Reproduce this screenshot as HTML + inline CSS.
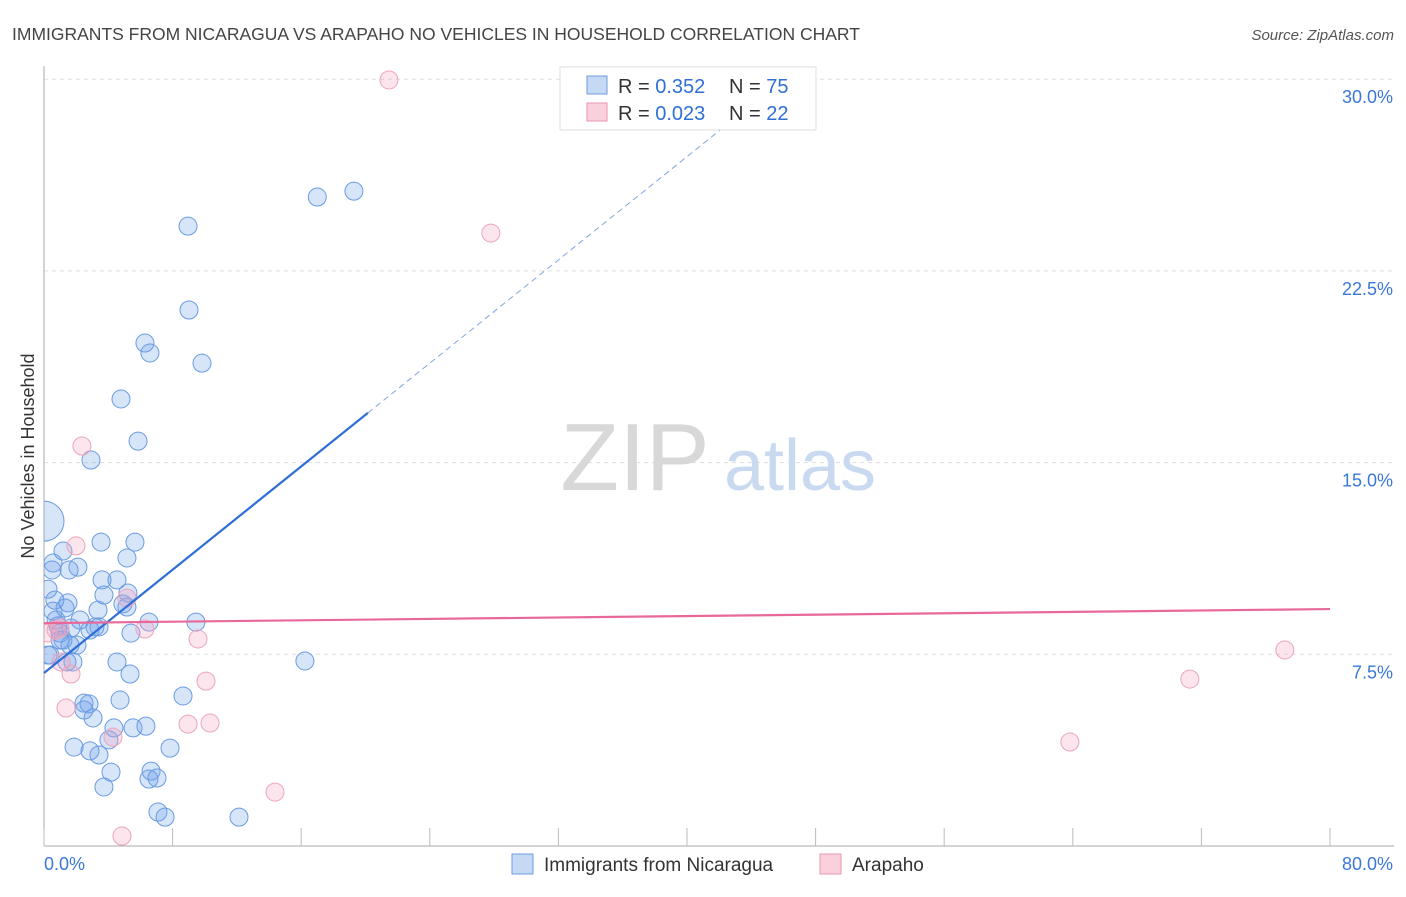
<!DOCTYPE html>
<html><head><meta charset="utf-8">
<style>
body{margin:0;background:#fff;font-family:"Liberation Sans",sans-serif;}
svg text{font-family:"Liberation Sans",sans-serif;}
</style></head>
<body>
<svg id="chart" width="1406" height="892" xmlns="http://www.w3.org/2000/svg">
<defs><clipPath id="plotclip"><rect x="44" y="60" width="1360" height="786"/></clipPath></defs>
<text x="12" y="40" font-size="17.5" fill="#444">IMMIGRANTS FROM NICARAGUA VS ARAPAHO NO VEHICLES IN HOUSEHOLD CORRELATION CHART</text>
<text x="1394" y="40" font-size="15" fill="#555" text-anchor="end" font-style="italic">Source: ZipAtlas.com</text>
<text transform="translate(34,456) rotate(-90)" font-size="18" fill="#333" text-anchor="middle">No Vehicles in Household</text>
<g id="grid"></g>
<g id="watermark">
<text x="635" y="490" font-size="96" fill="#d8d8d8" text-anchor="middle" font-family="Liberation Serif">ZIP</text>
<text x="800" y="490" font-size="72" fill="#c9d9f0" text-anchor="middle">atlas</text>
</g>
<g id="pts" clip-path="url(#plotclip)"></g>
<g id="lines"></g>
<g>
<rect x="560" y="67" width="256" height="63" fill="#fff" stroke="#ddd"/>
<rect x="587" y="76" width="20" height="18" fill="#c5d9f5" stroke="#6f9be0"/>
<text x="618" y="93" font-size="20" fill="#333">R = <tspan fill="#2f6fd6">0.352</tspan></text>
<text x="729" y="93" font-size="20" fill="#333">N = <tspan fill="#2f6fd6">75</tspan></text>
<rect x="587" y="103" width="20" height="18" fill="#fbd0dd" stroke="#e896b0"/>
<text x="618" y="120" font-size="20" fill="#333">R = <tspan fill="#2f6fd6">0.023</tspan></text>
<text x="729" y="120" font-size="20" fill="#333">N = <tspan fill="#2f6fd6">22</tspan></text>
</g>
<g>
<rect x="512" y="854" width="21" height="20" fill="#c5d9f5" stroke="#6f9be0"/>
<text x="544" y="871" font-size="19" fill="#333">Immigrants from Nicaragua</text>
<rect x="820" y="854" width="21" height="20" fill="#fbd0dd" stroke="#e896b0"/>
<text x="852" y="871" font-size="19" fill="#333">Arapaho</text>
</g>
</svg>
<script>
const blueX=[8.96,17.0,19.28,9.02,6.28,6.59,9.83,4.79,5.85,2.92,0,3.55,5.66,1.18,5.16,0.56,1.56,2.11,3.61,4.54,0.25,5.22,1.49,3.36,4.91,0.56,6.53,9.45,0.87,1.68,3.42,1.0,5.41,2.05,1.18,0.37,1.43,1.80,16.23,4.54,5.35,8.65,4.73,2.49,2.80,2.49,3.05,4.35,5.54,6.34,7.84,1.87,2.86,3.42,4.04,4.17,6.66,7.03,3.73,6.53,7.09,7.53,12.13,0.25,0.75,2.24,1.62,3.73,1.0,5.16,3.17,1.31,0.68,0.5,2.86];
const blueY=[24.25,25.39,25.62,20.97,19.68,19.29,18.89,17.49,15.84,15.10,12.71,11.89,11.89,11.54,11.27,11.07,10.80,10.91,10.41,10.41,10.05,9.90,9.51,9.23,9.47,9.19,8.76,8.76,8.61,8.53,8.57,8.33,8.33,7.86,8.06,7.47,7.20,7.20,7.24,7.20,6.73,5.87,5.71,5.59,5.56,5.32,5.01,4.62,4.62,4.69,3.83,3.87,3.72,3.56,4.15,2.89,2.93,2.66,2.31,2.62,1.33,1.13,1.13,7.47,8.84,8.84,7.86,9.82,8.06,9.35,8.57,9.31,9.62,10.80,8.45];
const pinkX=[21.46,27.8,2.36,1.99,5.16,6.28,9.58,10.08,8.96,10.33,4.29,14.37,1.37,1.68,0.75,1.06,4.85,63.82,71.28,77.19,0.25,1.0];
const pinkY=[29.97,23.98,15.65,11.74,9.70,8.49,8.10,6.45,4.77,4.81,4.26,2.11,5.40,6.73,8.45,7.20,0.39,4.07,6.53,7.67,8.33,8.53];
const yTicks=[7.5,15.0,22.5,30.0];
const yTickLabels=["7.5%","15.0%","22.5%","30.0%"];
const xTicks=[0,8,16,24,32,40,48,56,64,72,80];
const blueTrend=[6.77,0.505];
const pinkTrend=[8.72,9.27];
const blueSolidEnd=20.15;

const NS="http://www.w3.org/2000/svg";
const X0=44,X1=1330,Y0=846,PXY=191.7/7.5;
const sx=v=>X0+(v/80)*(X1-X0);
const sy=v=>Y0-v*PXY;
function mk(tag,attrs,parent){const e=document.createElementNS(NS,tag);for(const k in attrs)e.setAttribute(k,attrs[k]);parent.appendChild(e);return e;}
const grid=document.getElementById('grid'),pts=document.getElementById('pts'),lines=document.getElementById('lines');
yTicks.forEach((t,i)=>{
 const l=mk('line',{x1:X0,x2:1394,y1:sy(t),y2:sy(t),stroke:'#ddd','stroke-dasharray':'4,4'},grid);
 
 
 const tx=mk('text',{x:1393,y:sy(t)+24,'font-size':18,fill:'#3a78d8','text-anchor':'end'},grid);
 tx.textContent=yTickLabels[i];
 
 
});
const ax=mk('line',{x1:X0,x2:X0,y1:66,y2:Y0,stroke:'#aaa'},grid);


const bx=mk('line',{x1:X0,x2:1394,y1:Y0,y2:Y0,stroke:'#aaa'},grid);


xTicks.forEach(t=>{
 const l=mk('line',{x1:sx(t),x2:sx(t),y1:Y0,y2:Y0-18,stroke:'#bbb'},grid);
 
 
});
const xl0=mk('text',{x:44,y:870,'font-size':18,fill:'#3a78d8'},grid);xl0.textContent=xTicks[0].toFixed(1)+'%';


const xl1=mk('text',{x:1393,y:870,'font-size':18,fill:'#3a78d8','text-anchor':'end'},grid);xl1.textContent=xTicks[xTicks.length-1].toFixed(1)+'%';


blueX.forEach((x,i)=>{
 const c=mk('circle',{cx:sx(x),cy:sy(blueY[i]),r:i===10?20:9,fill:'rgba(110,160,235,0.28)',stroke:'#6a9be3','stroke-width':1},pts);
 
 
});
pinkX.forEach((x,i)=>{
 const c=mk('circle',{cx:sx(x),cy:sy(pinkY[i]),r:9,fill:'rgba(245,160,190,0.28)',stroke:'#eda4bb','stroke-width':1},pts);
 
 
});
const bEnd=(30.3-blueTrend[0])/blueTrend[1];
const bl=mk('line',{x1:sx(0),y1:sy(blueTrend[0]),x2:sx(blueSolidEnd),y2:sy(blueTrend[0]+blueTrend[1]*blueSolidEnd),stroke:'#2f6fd6','stroke-width':2.2},lines);


const bd=mk('line',{x1:sx(blueSolidEnd),y1:sy(blueTrend[0]+blueTrend[1]*blueSolidEnd),x2:sx(bEnd),y2:sy(blueTrend[0]+blueTrend[1]*bEnd),stroke:'#7fa6e0','stroke-width':1,'stroke-dasharray':'6,4'},lines);


const pl=mk('line',{x1:sx(0),y1:sy(pinkTrend[0]),x2:sx(80),y2:sy(pinkTrend[1]),stroke:'#e8689a','stroke-width':2.2},lines);


</script>
</body></html>
